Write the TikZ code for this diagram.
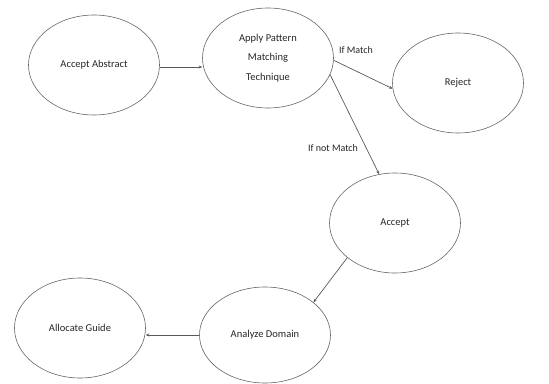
\documentclass[tikz,border=0pt]{standalone}
\usepackage{fontspec}
\setmainfont{Carlito}
\usetikzlibrary{shapes.geometric,arrows.meta}
\tikzset{
  state/.style={ellipse, draw=black!60, line width=0.6pt, inner sep=0pt,
    minimum width=131pt, minimum height=100pt, align=center,
    font=\fontsize{10.5}{19.5}\selectfont, text=black!85},
  flow/.style={draw=black!65, line width=0.7pt, -{Stealth[length=3.5pt,width=3pt]}},
  lbl/.style={font=\fontsize{10}{12}\selectfont, text=black!85, inner sep=0pt}
}
\begin{document}
\begin{tikzpicture}[x=1pt,y=-1pt]
\useasboundingbox (0,0) rectangle (549,383);
\node[state] (aa) at (94,65) {Accept Abstract};
\node[state] (ap) at (268,58) {Apply Pattern\\Matching\\Technique};
\node[state] (rj) at (458,83) {Reject};
\node[state] (ac) at (395,223) {Accept};
\node[state, minimum height=96pt] (ad) at (265,335) {Analyze Domain};
\node[state] (ag) at (80,328) {Allocate Guide};
\draw[flow] (aa.east |- 0,67) -- (ap.west |- 0,67);
\draw[flow] (ap.358) -- (rj.185);
\draw[flow] (ap.345) -- (ac.108);
\draw[flow] (ac.216) -- (ad.34);
\draw[flow] (ad.west) -- (ad.west -| ag.east);
\node[lbl] (m1) at (356,50) {If Match};
\node[lbl] (m2) at (333,148) {If not Match};
\end{tikzpicture}
\end{document}
